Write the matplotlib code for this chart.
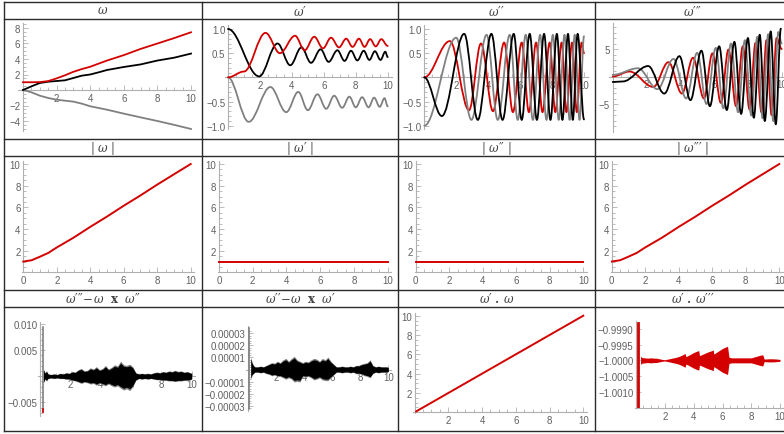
import numpy as np
import matplotlib
matplotlib.use('Agg')
import matplotlib.pyplot as plt
from matplotlib.path import Path
from matplotlib.patches import PathPatch
from matplotlib.lines import Line2D
from matplotlib.ticker import FixedLocator

plt.rcParams['mathtext.fontset'] = 'dejavuserif'
plt.rcParams['font.family'] = ['Liberation Sans', 'DejaVu Sans']

# ---------------- data ----------------
# omega components (row 1, col 1)
w_x = [0, 0.5, 1, 1.5, 2, 2.5, 3, 3.5, 4, 4.5, 5, 6, 7, 8, 9, 10]
w_red = [1.0, 1.0, 1.02, 1.15, 1.5, 1.9, 2.35, 2.7, 3.0, 3.4, 3.8, 4.5, 5.3, 6.0, 6.7, 7.45]
w_black = [0, 0.47, 0.9, 1.07, 1.16, 1.25, 1.55, 1.85, 2.0, 2.28, 2.58, 2.97, 3.3, 3.8, 4.17, 4.7]
w_gray = [0, -0.3, -0.73, -1.03, -1.25, -1.38, -1.5, -1.76, -2.1, -2.32, -2.54, -3.05, -3.53, -4.0, -4.5, -5.03]

# omega' : extrema (x, y)
w1_red_x = [0, 1.0, 2.35, 3.25, 4.2, 4.8, 5.4, 5.95, 6.45, 6.95, 7.4, 7.8, 8.2, 8.55, 8.9, 9.25, 9.6, 10.0]
w1_red_y = [0, 0.12, 0.92, 0.5, 0.86, 0.56, 0.84, 0.6, 0.82, 0.62, 0.8, 0.63, 0.8, 0.63, 0.79, 0.64, 0.79, 0.65]
w1_black_x = [0, 1.95, 3.1, 3.9, 4.6, 5.2, 5.8, 6.3, 6.85, 7.3, 7.7, 8.1, 8.5, 8.85, 9.2, 9.55, 9.85, 10.0]
w1_black_y = [1.0, 0.02, 0.7, 0.25, 0.62, 0.3, 0.58, 0.32, 0.56, 0.34, 0.55, 0.35, 0.55, 0.36, 0.54, 0.36, 0.53, 0.42]
w1_gray_x = [0, 1.3, 2.65, 3.65, 4.4, 5.0, 5.6, 6.15, 6.65, 7.15, 7.6, 8.0, 8.4, 8.8, 9.15, 9.5, 9.8, 10.0]
w1_gray_y = [0, -0.92, -0.2, -0.72, -0.3, -0.68, -0.35, -0.65, -0.38, -0.63, -0.4, -0.62, -0.41, -0.62, -0.42, -0.61, -0.43, -0.6]

# omega''
w2_black_x = [0, 1.1, 2.5, 3.35, 4.2, 4.9, 5.6, 6.1, 6.6, 7.05, 7.5, 7.9, 8.3, 8.65, 9.0, 9.3, 9.6, 10.0]
w2_black_y = [0, -0.8, 0.9, -0.88, 0.9, -0.88, 0.9, -0.88, 0.9, -0.88, 0.9, -0.88, 0.9, -0.88, 0.9, -0.88, 0.9, -0.87]
w2_gray_x = [0, 2.0, 2.95, 3.9, 4.6, 5.35, 5.85, 6.35, 6.8, 7.25, 7.65, 8.05, 8.42, 8.78, 9.1, 9.42, 9.72, 10.0]
w2_gray_y = [-1.0, 0.82, -0.88, 0.88, -0.88, 0.88, -0.88, 0.88, -0.88, 0.88, -0.88, 0.88, -0.88, 0.88, -0.88, 0.88, -0.88, 0.85]
w2_red_x = [0, 1.6, 2.8, 3.55, 4.3, 5.0, 5.55, 6.1, 6.55, 7.0, 7.4, 7.85, 8.2, 8.6, 8.9, 9.25, 9.55, 9.85, 10.0]
w2_red_y = [0, 0.75, -0.68, 0.7, -0.7, 0.72, -0.72, 0.72, -0.72, 0.72, -0.72, 0.72, -0.72, 0.72, -0.72, 0.72, -0.72, 0.72, 0.5]

# omega'''
w3_black_x = [0, 0.6, 2.1, 3.05, 3.95, 4.6, 5.25, 5.75, 6.3, 6.75, 7.2, 7.6, 8.0, 8.35, 8.7, 9.0, 9.35, 9.65, 9.95]
w3_black_y = [-1.0, -0.9, 1.9, -3.1, 3.7, -4.3, 4.7, -5.4, 5.5, -6.1, 6.3, -6.8, 7.0, -7.5, 7.6, -8.1, 8.2, -8.7, 8.7]
w3_gray_x = [0, 1.5, 2.65, 3.6, 4.35, 5.0, 5.55, 6.1, 6.55, 7.0, 7.42, 7.82, 8.2, 8.55, 8.87, 9.2, 9.5, 9.8, 10.0]
w3_gray_y = [0.3, 1.5, -2.3, 3.2, -4.0, 4.3, -5.0, 5.2, -5.8, 6.0, -6.5, 6.6, -7.1, 7.2, -7.6, 7.7, -8.1, 8.1, 6.0]
w3_red_x = [0, 1.0, 2.4, 3.3, 4.1, 4.75, 5.4, 5.9, 6.4, 6.85, 7.3, 7.7, 8.1, 8.45, 8.8, 9.1, 9.4, 9.7, 10.0]
w3_red_y = [0, 0.9, -1.9, 2.6, -3.1, 3.4, -4.0, 4.2, -4.8, 4.9, -5.4, 5.5, -6.0, 6.1, -6.5, 6.6, -7.0, 7.0, 5.0]

# norms
n_x = [0, 0.5, 1, 1.5, 2, 3, 4, 5, 6, 7, 8, 9, 10]
norm_w = [1.0, 1.12, 1.45, 1.8, 2.3, 3.2, 4.2, 5.15, 6.15, 7.1, 8.1, 9.05, 10.0]
norm_w1 = [1.0] * 13
norm_w2 = [1.0] * 13
norm_w3 = [1.0, 1.12, 1.45, 1.8, 2.3, 3.2, 4.2, 5.15, 6.15, 7.1, 8.1, 9.05, 10.0]

# residual 1 : w''' - w x w''  (envelopes, units of 1e-3)
r1_x = [0.2, 0.3, 0.4, 0.5, 0.7, 0.9, 1.1, 1.3, 1.5, 1.7, 1.9, 2.1, 2.3, 2.5, 2.7, 2.9, 3.1, 3.3, 3.5, 3.7,
        3.9, 4.1, 4.3, 4.5, 4.7, 4.9, 5.1, 5.3, 5.5, 5.7, 5.9, 6.1, 6.3, 6.5, 6.7, 6.9, 7.1, 7.3, 7.5, 7.7,
        7.9, 8.1, 8.3, 8.5, 8.7, 8.9, 9.1, 9.3, 9.5, 9.7, 9.9, 10.0]
r1_hi = [1.2, 0.6, 0.9, 0.4, 0.3, 0.4, 0.3, 0.5, 0.4, 0.6, 0.5, 0.8, 0.7, 1.1, 1.3, 0.9, 1.0, 1.4, 1.2, 1.6,
         1.1, 1.3, 1.8, 1.2, 1.5, 1.9, 1.7, 2.5, 1.9, 1.8, 2.0, 1.6, 0.6, 0.4, 0.5, 0.4, 0.5, 0.4, 0.6, 0.7,
         0.6, 0.8, 0.7, 0.9, 0.8, 1.0, 0.8, 0.9, 0.7, 0.8, 0.6, 0.5]
r1_lo = [-1.1, -0.5, -0.8, -0.4, -0.3, -0.4, -0.3, -0.4, -0.4, -0.5, -0.5, -0.7, -0.8, -1.0, -1.2, -1.0, -1.1, -1.3, -1.2, -1.5,
         -1.2, -1.4, -1.6, -1.3, -1.6, -1.8, -1.6, -2.0, -2.3, -2.1, -2.4, -1.8, -0.7, -0.4, -0.5, -0.4, -0.5, -0.4, -0.5, -0.6,
         -0.6, -0.7, -0.7, -0.8, -0.8, -0.9, -0.8, -0.8, -0.7, -0.7, -0.6, -0.5]
r1_spike_x = 0.15
r1_spike = [-6.8, 9.5]

# residual 2 : w'' - w x w'  (units of 1e-5)
r2_hi = [0.9, 0.5, 0.3, 0.2, 0.2, 0.25, 0.2, 0.3, 0.4, 0.5, 0.45, 0.6, 0.5, 0.7, 0.8, 0.6, 0.8, 0.95, 0.7, 0.6,
         0.5, 0.6, 0.55, 0.7, 0.8, 0.75, 0.6, 0.8, 0.7, 0.9, 0.6, 0.4, 0.2, 0.2, 0.25, 0.2, 0.2, 0.25, 0.2, 0.3,
         0.3, 0.4, 0.45, 0.5, 0.7, 0.3, 0.2, 0.25, 0.2, 0.2, 0.2, 0.15]
r2_lo = [-0.7, -0.4, -0.3, -0.2, -0.2, -0.25, -0.2, -0.3, -0.35, -0.45, -0.4, -0.5, -0.5, -0.6, -0.7, -0.6, -0.7, -0.9, -0.85, -0.9,
         -0.5, -0.55, -0.5, -0.6, -0.75, -0.7, -0.6, -0.75, -0.8, -0.8, -0.6, -0.4, -0.2, -0.2, -0.25, -0.2, -0.2, -0.25, -0.2, -0.3,
         -0.3, -0.35, -0.45, -0.5, -0.6, -0.3, -0.2, -0.25, -0.2, -0.2, -0.2, -0.15]
r2_spike_x = 0.1
r2_spike = [-3.3, 3.4]

# dot products
d1_x = [0.1, 10.0]
d1_y = [0.1, 10.0]
d2_x = [0.3, 0.4, 0.6, 0.8, 1.0, 1.2, 1.4, 1.6, 1.8, 2.0, 2.2, 2.4, 2.6, 2.8, 3.0, 3.2, 3.4, 3.45, 3.6, 3.8,
        4.0, 4.2, 4.35, 4.4, 4.6, 4.8, 5.0, 5.2, 5.35, 5.4, 5.6, 5.8, 6.0, 6.2, 6.35, 6.45, 6.6, 7.0, 7.5, 8.0,
        8.3, 8.6, 8.8, 8.9, 9.2, 9.5, 9.8, 10.0]
d2_half = [1.3, 0.9, 0.8, 0.7, 0.8, 0.7, 0.7, 0.5, 0.3, 0.2, 0.4, 0.6, 0.8, 1.0, 1.3, 1.7, 2.2, 1.2, 1.5, 2.0,
           2.5, 2.9, 3.1, 1.5, 1.9, 2.3, 2.7, 3.0, 3.3, 2.0, 2.6, 3.2, 3.8, 4.2, 4.5, 1.0, 0.8, 0.8, 0.8, 0.8,
           1.2, 1.6, 1.8, 0.4, 0.5, 0.5, 0.4, 0.3]   # units of 1e-4 around -1
d2_spike_x = 0.12
d2_spike = [-1.00148, -0.99881]

headers = ["$\\omega$", "$\\omega\u2032$", "$\\omega\u2032\u2032$", "$\\omega\u2032\u2032\u2032$",
           "$|\\ \\omega\\ |$", "$|\\ \\omega\u2032\\ |$", "$|\\ \\omega\u2032\u2032\\ |$", "$|\\ \\omega\u2032\u2032\u2032\\ |$",
           "$\\omega\u2032\u2032\u2032\\!-\\!\\omega\\ \\ \\mathbf{x}\\ \\ \\omega\u2032\u2032$",
           "$\\omega\u2032\u2032\\!-\\!\\omega\\ \\ \\mathbf{x}\\ \\ \\omega\u2032$",
           "$\\omega\u2032\\ \\mathbf{.}\\,\\omega$", "$\\omega\u2032\\ \\mathbf{.}\\,\\omega\u2032\u2032\u2032$"]

# ---------------- figure ----------------
W, H = 784, 435
fig = plt.figure(figsize=(W / 100, H / 100), dpi=100)

RED = '#d40000'
GRAY = '#808080'
BLACK = '#000000'
AXC = '#b0b0b0'
LBC = '#606060'
GRIDC = '#2a2a2a'


def make_ax(xa, pxa, xb, pxb, ya, pya, yb, pyb, xlim, ylim):
    sx = (pxb - pxa) / (xb - xa)
    sy = (pyb - pya) / (yb - ya)
    left = pxa + (xlim[0] - xa) * sx
    right = pxa + (xlim[1] - xa) * sx
    top = pya + (ylim[1] - ya) * sy
    bottom = pya + (ylim[0] - ya) * sy
    ax = fig.add_axes([left / W, 1 - bottom / H, (right - left) / W, (bottom - top) / H])
    ax.set_xlim(*xlim)
    ax.set_ylim(*ylim)
    ax.patch.set_alpha(0)
    return ax


def style(ax, xt, xl, yt, yl, xminor, yminor, xaxis_y=0.0, yaxis_x=0.0):
    for s in ['top', 'right']:
        ax.spines[s].set_visible(False)
    ax.spines['bottom'].set_position(('data', xaxis_y))
    ax.spines['left'].set_position(('data', yaxis_x))
    for s in ['bottom', 'left']:
        ax.spines[s].set_color(AXC)
        ax.spines[s].set_linewidth(0.8)
        ax.spines[s].set_zorder(0.4)
    ax.set_xticks(xt)
    ax.set_xticklabels(xl)
    ax.set_yticks(yt)
    ax.set_yticklabels(yl)
    ax.xaxis.set_minor_locator(FixedLocator(xminor))
    ax.yaxis.set_minor_locator(FixedLocator(yminor))
    ax.tick_params(which='both', direction='in', color=AXC, labelcolor=LBC, labelsize=7, width=0.6, pad=2)
    ax.tick_params(which='major', length=3.5)
    ax.tick_params(which='minor', length=2)
    ax.set_axisbelow(True)


def smooth(ax, xs, ys, color, lw=1.3, k=0.36):
    verts = [(xs[0], ys[0])]
    codes = [Path.MOVETO]
    for i in range(len(xs) - 1):
        dx = xs[i + 1] - xs[i]
        verts += [(xs[i] + k * dx, ys[i]), (xs[i + 1] - k * dx, ys[i + 1]), (xs[i + 1], ys[i + 1])]
        codes += [Path.CURVE4] * 3
    ax.add_patch(PathPatch(Path(verts, codes), fill=False, edgecolor=color, lw=lw,
                           capstyle='round', joinstyle='round', zorder=2))


def rng(a, b, s):
    return list(np.arange(a, b + s / 2, s))


x_major = [2, 4, 6, 8, 10]
x_lab = ['2', '4', '6', '8', '10']
x_minor = [v for v in rng(0, 10, 0.5) if v not in x_major and v != 0]

# ---- row 1 ----
ax = make_ax(0, 23, 10, 191, 8, 29, -4, 122, (-0.3, 10.25), (-5.35, 8.6))
style(ax, x_major, x_lab, [-4, -2, 2, 4, 6, 8], ['\u22124', '\u22122', '2', '4', '6', '8'],
      x_minor, [v for v in rng(-5, 8.5, 0.5) if v % 2 != 0])
ax.plot(w_x, w_gray, color=GRAY, lw=1.3)
ax.plot(w_x, w_black, color=BLACK, lw=1.3)
ax.plot(w_x, w_red, color=RED, lw=1.3)

yl1 = ['\u22121.0', '\u22120.5', '0.5', '1.0']
ym1 = [v for v in rng(-1.0, 1.0, 0.1) if abs(v * 2 - round(v * 2)) > 1e-6]

ax = make_ax(0, 228, 10, 387.7, 1, 30, -1, 126.7, (-0.2, 10.25), (-1.07, 1.08))
style(ax, x_major, x_lab, [-1, -0.5, 0.5, 1], yl1, x_minor, ym1)
smooth(ax, w1_gray_x, w1_gray_y, GRAY)
smooth(ax, w1_black_x, w1_black_y, BLACK)
smooth(ax, w1_red_x, w1_red_y, RED)

ax = make_ax(0, 424.3, 10, 584, 1, 30, -1, 126.7, (-0.2, 10.25), (-1.07, 1.08))
style(ax, x_major, x_lab, [-1, -0.5, 0.5, 1], yl1, x_minor, ym1)
smooth(ax, w2_red_x, w2_red_y, RED)
smooth(ax, w2_gray_x, w2_gray_y, GRAY)
smooth(ax, w2_black_x, w2_black_y, BLACK)

ax = make_ax(0, 612.7, 10, 781.7, 5, 50, -5, 105, (-0.2, 10.25), (-10.0, 9.8))
style(ax, x_major, x_lab, [-5, 5], ['\u22125', '5'], x_minor, [v for v in range(-9, 10) if v % 5 != 0])
smooth(ax, w3_red_x, w3_red_y, RED)
smooth(ax, w3_gray_x, w3_gray_y, GRAY)
smooth(ax, w3_black_x, w3_black_y, BLACK)

# ---- row 2 ----
nx_major = [0, 2, 4, 6, 8, 10]
nx_lab = ['0', '2', '4', '6', '8', '10']
ny_major = [2, 4, 6, 8, 10]
ny_lab = ['2', '4', '6', '8', '10']
n_minor = [v for v in rng(0, 10, 0.5) if v % 2 != 0]
norm_specs = [((0, 23.3, 10, 190.7), norm_w), ((0, 219, 10, 387.7), norm_w1),
              ((0, 415.7, 10, 583.3), norm_w2), ((0, 611.7, 10, 779.3), norm_w3)]
for (xa, pa, xb, pb), vals in norm_specs:
    ax = make_ax(xa, pa, xb, pb, 10, 165, 2, 251.7, (-0.05, 10.2), (0, 10.25))
    style(ax, nx_major, nx_lab, ny_major, ny_lab, n_minor, n_minor)
    ax.plot(n_x, vals, color=RED, lw=1.4)

# ---- row 3 ----
ax = make_ax(2, 70.7, 10, 191.7, 0.010, 325, -0.005, 403.3, (-0.15, 10.2), (-0.0076, 0.0103))
style(ax, x_major, x_lab, [0.010, 0.005, -0.005], ['0.010', '0.005', '\u22120.005'], x_minor,
      [v * 0.001 for v in range(-7, 11) if v % 5 != 0])
hi = np.array(r1_hi) * 1e-3
lo = np.array(r1_lo) * 1e-3
ax.fill_between(r1_x, lo * 1.15, hi * 1.15, color=GRAY, lw=0, zorder=1.8)
ax.fill_between(r1_x, lo, hi, color=BLACK, lw=0, zorder=2)
ax.plot([r1_spike_x, r1_spike_x], np.array(r1_spike) * 1e-3, color=GRAY, lw=1.2, zorder=1.9)
ax.plot([r1_spike_x, r1_spike_x], [r1_spike[0] * 1e-3, (r1_spike[0] + 0.6) * 1e-3], color=RED, lw=1.2, zorder=2.1)

ax = make_ax(2, 276, 10, 388.3, 3e-5, 334.3, -3e-5, 406.7, (-0.15, 10.2), (-3.45e-5, 3.6e-5))
style(ax, x_major, x_lab, [3e-5, 2e-5, 1e-5, -1e-5, -2e-5, -3e-5],
      ['0.00003', '0.00002', '0.00001', '\u22120.00001', '\u22120.00002', '\u22120.00003'], x_minor,
      [v * 2e-6 for v in range(-16, 17) if v % 5 != 0])
hi = np.array(r2_hi) * 1e-5
lo = np.array(r2_lo) * 1e-5
ax.fill_between(r1_x, lo * 1.15, hi * 1.15, color=GRAY, lw=0, zorder=1.8)
ax.fill_between(r1_x, lo, hi, color=BLACK, lw=0, zorder=2)
ax.plot([r2_spike_x, r2_spike_x], np.array(r2_spike) * 1e-5, color=GRAY, lw=1.2, zorder=1.9)

ax = make_ax(2, 448.3, 10, 583.3, 10, 316.7, 2, 394, (-0.1, 10.2), (-0.1, 10.3))
style(ax, x_major, x_lab, ny_major, ny_lab, x_minor, n_minor)
ax.plot(d1_x, d1_y, color=RED, lw=1.4)

ax = make_ax(2, 665, 10, 780, -0.9990, 330, -1.0010, 392.7, (-0.1, 10.2), (-1.00152, -0.99875))
style(ax, x_major, x_lab, [-0.9990, -0.9995, -1.0, -1.0005, -1.0010],
      ['\u22120.9990', '\u22120.9995', '\u22121.0000', '\u22121.0005', '\u22121.0010'], x_minor,
      [-1 + v * 1e-4 for v in range(-15, 12) if v % 5 != 0], xaxis_y=-1.00152)
half = np.array(d2_half) * 1e-4
ax.fill_between(d2_x, -1 - half, -1 + half, color=RED, lw=0, zorder=2)
ax.plot([d2_spike_x, d2_spike_x], d2_spike, color=RED, lw=2.0, zorder=2)

# ---- grid frame ----
vx = [4, 202, 398, 595]
hy = [3, 20, 140, 157, 291, 308, 432]
for x in vx:
    fig.add_artist(Line2D([x / W, x / W], [1 - 3 / H, 1 - 432 / H], color=GRIDC, lw=1.0))
for y in hy:
    fig.add_artist(Line2D([4 / W, 1.0], [1 - y / H, 1 - y / H], color=GRIDC, lw=1.0))

col_c = [103, 300, 496.5, 693]
row_c = [11.5, 148.5, 299.5]
for i, t in enumerate(headers):
    r, c = divmod(i, 4)
    fig.text(col_c[c] / W, 1 - row_c[r] / H, t, ha='center', va='center', fontsize=8.5, color='#444444')

fig.savefig('out.png', dpi=100)
